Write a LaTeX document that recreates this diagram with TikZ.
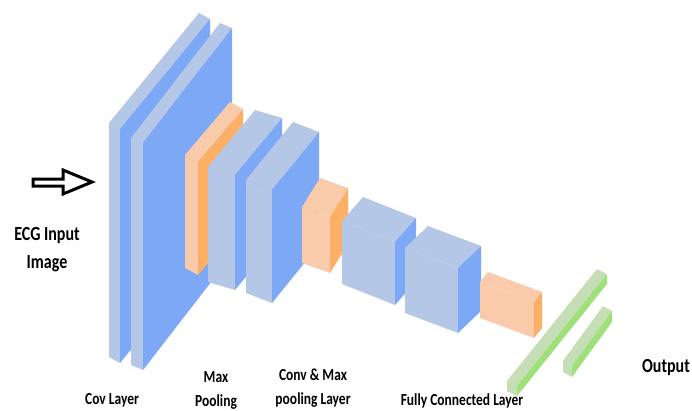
\documentclass[tikz,border=0pt]{standalone}
\usepackage{fontspec}
\setmainfont{Carlito}
\definecolor{convface}{HTML}{B4C7E7}
\definecolor{convside}{HTML}{7DA8F6}
\definecolor{poolface}{HTML}{F9CBAA}
\definecolor{poolside}{HTML}{FDAF66}
\definecolor{fcface}{HTML}{C5DEB5}
\definecolor{fcside}{HTML}{A0E07A}

% Oblique cuboid: #1,#2 front bottom-left corner; #3,#4 width vector;
% #5 height; #6,#7 depth vector; #8 front/top colour; #9 side colour
\newcommand{\layerbox}[9]{%
  \fill[#8] ({#1},{#2}) -- ({#1+#3},{#2+#4}) -- ({#1+#3},{#2+#4-#5}) -- ({#1},{#2-#5}) -- cycle;
  \fill[#8] ({#1},{#2-#5}) -- ({#1+#3},{#2+#4-#5}) -- ({#1+#3+#6},{#2+#4-#5+#7}) -- ({#1+#6},{#2-#5+#7}) -- cycle;
  \fill[#9] ({#1+#3},{#2+#4}) -- ({#1+#3+#6},{#2+#4+#7}) -- ({#1+#3+#6},{#2+#4-#5+#7}) -- ({#1+#3},{#2+#4-#5}) -- cycle;
}
% label text, stretched vertically
\newcommand{\tallstack}[1]{\scalebox{1}[1.25]{\begin{tabular}{@{}c@{}}#1\end{tabular}}}

\begin{document}
\begin{tikzpicture}[x=1pt,y=-1pt,
  lbl/.style={inner sep=0pt, font=\fontsize{13.5}{19}\selectfont\bfseries},
  biglbl/.style={inner sep=0pt, font=\fontsize{16}{22.4}\selectfont\bfseries}]
\useasboundingbox (0,0) rectangle (692,410);
\fill[white] (0,0) rectangle (692,410);

% input arrow
\draw[line width=3pt, line join=miter, fill=white]
  (33,179) -- (63,179) -- (63,170) -- (92,182) -- (63,194) -- (63,186) -- (33,186) -- cycle;

% convolution slabs
\layerbox{109}{357}{11}{6}{234}{90}{-110}{convface}{convside}
\layerbox{131}{365}{12}{5}{227}{89}{-115}{convface}{convside}
% max pooling + conv blocks
\layerbox{185}{268}{13}{7}{113}{45}{-53}{poolface}{poolside}
\layerbox{208}{282}{27}{8}{115}{47}{-57}{convface}{convside}
\layerbox{246}{293}{26}{10}{113}{47}{-58}{convface}{convside}
\layerbox{302}{263}{28}{10}{56}{18}{-29}{poolface}{poolside}
\layerbox{342}{284}{53}{21}{63}{21}{-24}{convface}{convside}
\layerbox{405}{313}{53}{20}{65}{23}{-22}{convface}{convside}
\layerbox{480}{318}{54}{20}{36}{8}{-10}{poolface}{poolside}
% fully connected bars
\layerbox{507}{391}{10}{5}{10}{90}{-112}{fcface}{fcside}
\layerbox{563}{372}{9}{5}{11}{40}{-55}{fcface}{fcside}

% labels
\node[biglbl] (input) at (47,249) {\tallstack{ECG Input\\Image}};
\node[lbl] (cov) at (112,400) {\tallstack{Cov Layer}};
\node[lbl] (maxpool) at (216,390) {\tallstack{Max\\Pooling}};
\node[lbl] (convmax) at (313,388) {\tallstack{Conv \& Max\\pooling Layer}};
\node[lbl] (fc) at (462,401) {\tallstack{Fully Connected Layer}};
\node[biglbl] (output) at (666,367) {\tallstack{Output}};
\end{tikzpicture}
\end{document}
